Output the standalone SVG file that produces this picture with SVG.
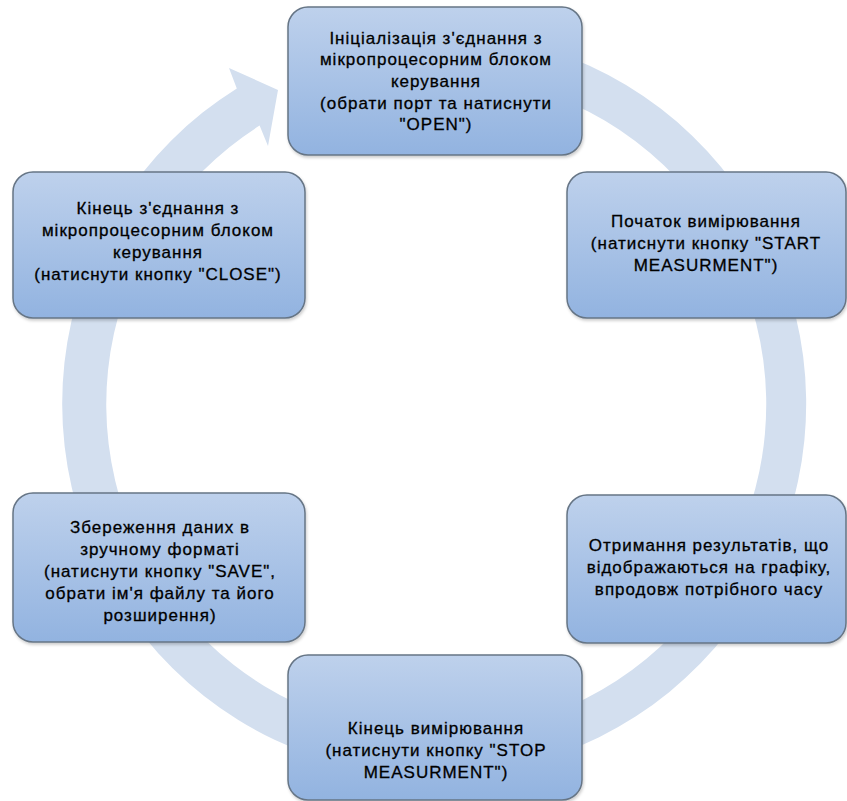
<svg xmlns="http://www.w3.org/2000/svg" width="847" height="801" viewBox="0 0 847 801">
  <defs>
    <linearGradient id="boxFill" x1="0" y1="0" x2="0" y2="1">
      <stop offset="0" stop-color="#bed1ec"/>
      <stop offset="1" stop-color="#92b3e0"/>
    </linearGradient>
    <filter id="shadow" x="-10%" y="-10%" width="120%" height="130%">
      <feDropShadow dx="1" dy="2" stdDeviation="1.5" flood-color="#000" flood-opacity="0.2"/>
    </filter>
  </defs>
  <style>
    .box { fill: url(#boxFill); stroke: #667585; stroke-width: 1.5; filter: url(#shadow); }
    .lbl { font-family: "Liberation Sans", Arial, sans-serif; font-size: 17px; letter-spacing: 1px; fill: #000; stroke: #000; stroke-width: 0.3; text-anchor: middle; }
    .band { fill: #d3dfef; }
  </style>
  <rect width="847" height="801" fill="#fff"/>
  <g id="connectors">
    <path class="band" d="M 550.0 50.2 A 372 372 0 1 1 236.8 88.4 L 229 68 L 278 90 L 268 146 L 259.6 125.6 A 330 330 0 1 0 537.0 90.1 Z"/>
  </g>
  <g id="node-init">
    <rect class="box" x="288" y="7" width="294" height="148" rx="20"/>
    <text class="lbl"><tspan x="436" y="43.5">Ініціалізація з'єднання з</tspan><tspan x="436" y="65.2">мікропроцесорним блоком</tspan><tspan x="436" y="86.9">керування</tspan><tspan x="436" y="108.6">(обрати порт та натиснути</tspan><tspan x="436" y="130.3">"OPEN")</tspan></text>
  </g>
  <g id="node-start">
    <rect class="box" x="567" y="172" width="279" height="146" rx="20"/>
    <text class="lbl"><tspan x="706" y="227">Початок вимірювання</tspan><tspan x="706" y="249">(натиснути кнопку "START</tspan><tspan x="706" y="271">MEASURMENT")</tspan></text>
  </g>
  <g id="node-results">
    <rect class="box" x="567" y="495" width="279" height="148" rx="20"/>
    <text class="lbl"><tspan x="709" y="551">Отримання результатів, що</tspan><tspan x="709" y="573">відображаються на графіку,</tspan><tspan x="709" y="595">впродовж потрібного часу</tspan></text>
  </g>
  <g id="node-stop">
    <rect class="box" x="288" y="655" width="294" height="145" rx="20"/>
    <text class="lbl"><tspan x="436" y="734">Кінець вимірювання</tspan><tspan x="436" y="756">(натиснути кнопку "STOP</tspan><tspan x="436" y="778">MEASURMENT")</tspan></text>
  </g>
  <g id="node-save">
    <rect class="box" x="13" y="493" width="292" height="149" rx="20"/>
    <text class="lbl"><tspan x="160" y="533">Збереження даних в</tspan><tspan x="160" y="555">зручному форматі</tspan><tspan x="160" y="577">(натиснути кнопку "SAVE",</tspan><tspan x="160" y="599">обрати ім'я файлу та його</tspan><tspan x="160" y="621">розширення)</tspan></text>
  </g>
  <g id="node-close">
    <rect class="box" x="13" y="172" width="292" height="146" rx="20"/>
    <text class="lbl"><tspan x="158" y="214">Кінець з'єднання з</tspan><tspan x="158" y="236">мікропроцесорним блоком</tspan><tspan x="158" y="258">керування</tspan><tspan x="158" y="280">(натиснути кнопку "CLOSE")</tspan></text>
  </g>
</svg>
